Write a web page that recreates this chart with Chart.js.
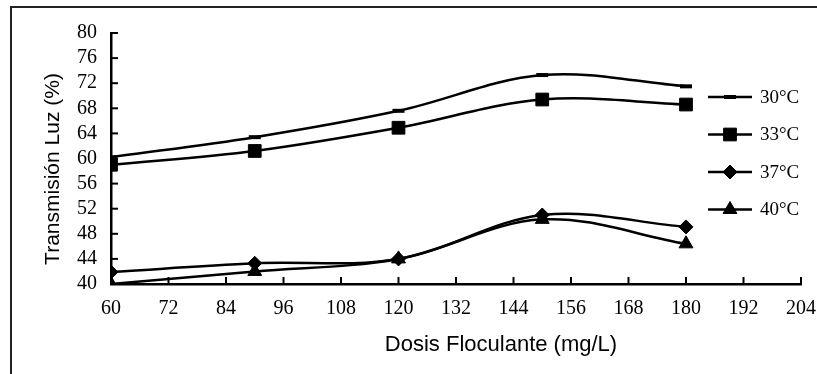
<!DOCTYPE html>
<html>
<head>
<meta charset="utf-8">
<script src="https://cdn.jsdelivr.net/npm/chart.js@4.4.0/dist/chart.umd.min.js"></script>
<style>
  html, body { margin: 0; padding: 0; background: #fff; }
  #wrap { position: relative; width: 817px; height: 374px; }
  #frame { position: absolute; left: 10px; top: 6px; right: -5px; bottom: -5px;
           border-top: 2px solid #222; border-left: 2px solid #222; }
  canvas { position: absolute; left: 0; top: 0; }
</style>
</head>
<body>
<div id="wrap">
  <div id="frame"></div>
  <canvas id="chart" width="817" height="374"></canvas>
</div>
<script>
// data
const doses = [60, 90, 120, 150, 180];
const seriesNames = ['30°C', '33°C', '37°C', '40°C'];
const t30 = [60.2, 63.4, 67.6, 73.3, 71.5];
const t33 = [59.0, 61.2, 64.9, 69.4, 68.6];
const t37 = [41.9, 43.3, 44.0, 51.0, 49.1];
const t40 = [40.0, 42.0, 44.0, 50.3, 46.4];
const xTicks = [60, 72, 84, 96, 108, 120, 132, 144, 156, 168, 180, 192, 204];
const yTicks = [40, 44, 48, 52, 56, 60, 64, 68, 72, 76, 80];
const xTitle = 'Dosis Floculante (mg/L)';
const yTitle = 'Transmisión Luz (%)';

const markers = [
  { style: 'line', radius: 6, width: 4 },
  { style: 'rect', radius: 9, width: 1 },
  { style: 'rectRot', radius: 7, width: 1 },
  { style: 'triangle', radius: 8, width: 1 }
];

function toPoints(vals) {
  return vals.map((v, i) => ({ x: doses[i], y: v }));
}

const datasets = [t30, t33, t37, t40].map((vals, i) => ({
  label: seriesNames[i],
  data: toPoints(vals),
  borderColor: '#000',
  backgroundColor: '#000',
  borderWidth: 2.5,
  tension: 0.35,
  pointStyle: markers[i].style,
  pointRadius: markers[i].radius,
  pointBorderWidth: markers[i].width,
  pointBackgroundColor: '#000',
  pointBorderColor: '#000'
}));

const serif = '"Liberation Serif", "Times New Roman", serif';
const sans = '"Liberation Sans", Arial, sans-serif';

// ticks pointing into the plot, legend on the right, axis titles
const extras = {
  id: 'extras',
  afterDraw(chart) {
    const ctx = chart.ctx;
    const xs = chart.scales.x, ys = chart.scales.y;
    const area = chart.chartArea;
    ctx.save();
    ctx.strokeStyle = '#000';
    ctx.lineWidth = 2;
    xTicks.forEach(v => {
      const px = xs.getPixelForValue(v);
      ctx.beginPath();
      ctx.moveTo(px, area.bottom);
      ctx.lineTo(px, area.bottom - 7);
      ctx.stroke();
    });
    yTicks.forEach(v => {
      const py = ys.getPixelForValue(v);
      ctx.beginPath();
      ctx.moveTo(area.left, py);
      ctx.lineTo(area.left + 7, py);
      ctx.stroke();
    });

    // legend
    ctx.font = '19px ' + serif;
    ctx.textBaseline = 'middle';
    ctx.fillStyle = '#000';
    seriesNames.forEach((name, i) => {
      const y = 97 + 37.5 * i;
      ctx.lineWidth = 2.5;
      ctx.beginPath();
      ctx.moveTo(708, y);
      ctx.lineTo(752, y);
      ctx.stroke();
      ctx.lineWidth = markers[i].width;
      Chart.helpers.drawPoint(ctx, {
        pointStyle: markers[i].style,
        radius: markers[i].radius,
        rotation: 0,
        borderWidth: markers[i].width
      }, 730, y);
      ctx.fillText(name, 760, y + 1);
    });

    // axis titles
    ctx.textAlign = 'center';
    ctx.font = '22px ' + sans;
    ctx.fillText(xTitle, 501, 345);
    ctx.font = '21px ' + sans;
    ctx.translate(53, 169);
    ctx.rotate(-Math.PI / 2);
    ctx.fillText(yTitle, 0, 0);
    ctx.restore();
  }
};

new Chart(document.getElementById('chart'), {
  type: 'line',
  data: { datasets: datasets },
  options: {
    responsive: false,
    animation: false,
    layout: { padding: { top: 33, right: 16, left: 41, bottom: 0 } },
    plugins: { legend: { display: false }, tooltip: { enabled: false } },
    scales: {
      x: {
        type: 'linear',
        min: 60,
        max: 204,
        afterBuildTicks: s => { s.ticks = xTicks.map(v => ({ value: v })); },
        afterFit: s => { s.height = 90; s.paddingLeft = 0; s.paddingRight = 0; },
        grid: { display: false, drawTicks: false },
        border: { display: true, color: '#000', width: 2.5 },
        ticks: {
          color: '#000',
          padding: 13,
          maxRotation: 0,
          autoSkip: false,
          font: { family: serif, size: 20 }
        }
      },
      y: {
        min: 40,
        max: 80,
        afterBuildTicks: s => { s.ticks = yTicks.map(v => ({ value: v })); },
        afterFit: s => { s.width = 70; s.paddingTop = 0; s.paddingBottom = 0; },
        grid: { display: false, drawTicks: false },
        border: { display: true, color: '#000', width: 2.5 },
        ticks: {
          color: '#000',
          padding: 14,
          autoSkip: false,
          font: { family: serif, size: 20 }
        }
      }
    }
  },
  plugins: [extras]
});
</script>
</body>
</html>
